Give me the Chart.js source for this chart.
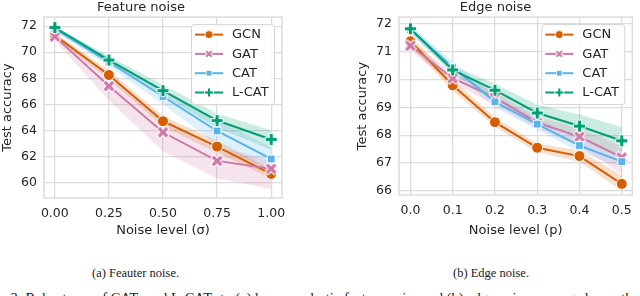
<!DOCTYPE html>
<html>
<head>
<meta charset="utf-8">
<script src="https://cdn.jsdelivr.net/npm/chart.js@4.4.0/dist/chart.umd.min.js"></script>
<style>
  html, body { margin: 0; padding: 0; background: #fff; }
  body { width: 640px; height: 296px; overflow: hidden; position: relative; }
  canvas { position: absolute; top: 0; }
  .cap { position: absolute; font-family: "Liberation Serif", "Times New Roman", serif; font-size: 12.5px; color: #222; white-space: nowrap; }
</style>
</head>
<body>
<canvas id="feat" width="320" height="240" style="left:0"></canvas>
<canvas id="edge" width="320" height="240" style="left:320px"></canvas>
<div class="cap" style="left:92px; top:266px">(a) Feauter noise.</div>
<div class="cap" style="left:453px; top:266px">(b) Edge noise.</div>
<div class="cap" style="left:-31px; top:290px; font-size:14.5px">Figure 3: Robustness of CATs and L-CATs to (a) homoscedastic feature noise and (b) edge noise, averaged over the test splits.</div>
<script>
const names = ['GCN', 'GAT', 'CAT', 'L-CAT'];
const colors = ['#d55e00', '#cc79a7', '#56b4e9', '#009e73'];

// feature noise panel
const featLevels = [0, 0.25, 0.5, 0.75, 1.0];
const featTicksY = [60, 62, 64, 66, 68, 70, 72];
const featGCN  = [71.3, 68.25, 64.7, 62.75, 60.65];
const featGAT  = [71.2, 67.4, 63.85, 61.65, 61.05];
const featCAT  = [71.8, 69.25, 66.6, 63.95, 61.8];
const featLCAT = [71.9, 69.4, 67.05, 64.75, 63.3];
const featGCNLo  = [71.1, 67.9, 64.3, 62.3, 60.3];
const featGCNHi  = [71.5, 68.6, 65.1, 63.2, 61.0];
const featGATLo  = [70.9, 66.3, 62.4, 60.3, 59.5];
const featGATHi  = [71.4, 68.2, 64.9, 62.7, 61.7];
const featCATLo  = [71.6, 68.9, 66.0, 62.9, 60.9];
const featCATHi  = [72.0, 69.6, 67.1, 64.8, 62.7];
const featLCATLo = [71.7, 69.1, 66.7, 64.2, 62.5];
const featLCATHi = [72.0, 69.7, 67.5, 65.3, 64.0];

// edge noise panel
const edgeLevels = [0, 0.1, 0.2, 0.3, 0.4, 0.5];
const edgeTicksY = [66, 67, 68, 69, 70, 71, 72];
const edgeGCN  = [71.38, 69.8, 68.47, 67.55, 67.25, 66.25];
const edgeGAT  = [71.22, 70.05, 69.35, 68.45, 67.95, 67.2];
const edgeCAT  = [71.8, 70.45, 69.2, 68.4, 67.63, 67.05];
const edgeLCAT = [71.83, 70.35, 69.62, 68.8, 68.33, 67.8];
const edgeGCNLo  = [71.2, 69.6, 68.3, 67.4, 67.05, 66.0];
const edgeGCNHi  = [71.55, 70.0, 68.65, 67.7, 67.45, 66.55];
const edgeGATLo  = [71.05, 69.85, 69.1, 68.25, 67.6, 66.6];
const edgeGATHi  = [71.4, 70.25, 69.55, 68.65, 68.25, 67.6];
const edgeCATLo  = [71.65, 70.25, 69.0, 68.2, 67.4, 66.85];
const edgeCATHi  = [71.95, 70.65, 69.4, 68.6, 67.85, 67.3];
const edgeLCATLo = [71.7, 70.2, 69.35, 68.5, 67.85, 67.2];
const edgeLCATHi = [71.95, 70.5, 69.85, 69.1, 68.75, 68.3];

const FONT = '"DejaVu Sans", sans-serif';
const TXT = '#262626';
const GRID = '#dcdcdc';

// seaborn-like filled plus / X markers with a white edge
function makeMarker(kind, color, size) {
  const c = document.createElement('canvas');
  c.width = c.height = size + 3;
  const g = c.getContext('2d');
  const m = (size + 3) / 2, a = size / 2, t = size / 6;
  g.translate(m, m);
  if (kind === 'x') g.rotate(Math.PI / 4);
  const pts = [[-t,-a],[t,-a],[t,-t],[a,-t],[a,t],[t,t],[t,a],[-t,a],[-t,t],[-a,t],[-a,-t],[-t,-t]];
  g.beginPath();
  pts.forEach((p, i) => i ? g.lineTo(p[0], p[1]) : g.moveTo(p[0], p[1]));
  g.closePath();
  g.fillStyle = color; g.fill();
  g.strokeStyle = '#fff'; g.lineWidth = 1; g.stroke();
  return c;
}

const styles = [
  { pointStyle: 'circle', radius: 5.5, legend: 'circle', lr: 4 },
  { pointStyle: makeMarker('x', colors[1], 13), radius: 6, legend: makeMarker('x', colors[1], 9) },
  { pointStyle: 'rect', radius: 5.5, legend: 'rect', lr: 4 },
  { pointStyle: makeMarker('+', colors[3], 12), radius: 6, legend: makeMarker('+', colors[3], 9) }
];

function hexA(hex, a) {
  const n = parseInt(hex.slice(1), 16);
  return `rgba(${n >> 16},${(n >> 8) & 255},${n & 255},${a})`;
}

const legendBox = {
  id: 'legendBox',
  afterDatasetsDraw(chart) {
    const { ctx, chartArea } = chart;
    const w = 83, h = 80;
    const x = chartArea.right - 8 - w, y = chartArea.top + 7;
    ctx.save();
    ctx.fillStyle = 'rgba(255,255,255,0.85)';
    ctx.strokeStyle = '#d4d4d4';
    ctx.lineWidth = 1;
    ctx.beginPath();
    ctx.roundRect(x + 0.5, y + 0.5, w, h, 3);
    ctx.fill(); ctx.stroke();
    names.forEach((n, i) => {
      const cy = y + 10.5 + i * 19.3;
      ctx.strokeStyle = colors[i]; ctx.lineWidth = 2;
      ctx.beginPath(); ctx.moveTo(x + 4, cy); ctx.lineTo(x + 32, cy); ctx.stroke();
      ctx.fillStyle = colors[i]; ctx.strokeStyle = '#fff'; ctx.lineWidth = 0.8;
      Chart.helpers.drawPoint(ctx, { pointStyle: styles[i].legend, radius: styles[i].lr || 4, borderWidth: 0.8, rotation: 0 }, x + 18, cy);
      ctx.fillStyle = TXT;
      ctx.font = '13px ' + FONT;
      ctx.textBaseline = 'middle';
      ctx.fillText(n, x + 41, cy + 0.5);
    });
    ctx.restore();
  }
};

const frame = {
  id: 'frame',
  beforeDatasetsDraw(chart) {
    const { ctx, chartArea: a } = chart;
    ctx.save();
    ctx.strokeStyle = GRID; ctx.lineWidth = 1.5;
    ctx.strokeRect(a.left, a.top, a.right - a.left, a.bottom - a.top);
    ctx.restore();
  }
};

function buildChart(id, cfg) {
  const pts = (xs, ys) => xs.map((x, i) => ({ x: x, y: ys[i] }));
  const datasets = [];
  // Chart.js paints dataset 0 last, so the series go in reverse to keep L-CAT on top
  for (let i = cfg.series.length - 1; i >= 0; i--) {
    datasets.push({
      data: pts(cfg.levels, cfg.series[i]),
      borderColor: colors[i],
      backgroundColor: colors[i],
      borderWidth: 2,
      pointStyle: styles[i].pointStyle,
      pointRadius: styles[i].radius,
      pointBackgroundColor: colors[i],
      pointBorderColor: '#fff',
      pointBorderWidth: 1,
      fill: false,
      tension: 0
    });
  }
  cfg.bands.forEach((b, i) => {
    datasets.push({ data: pts(cfg.levels, b[0]), borderWidth: 0, pointRadius: 0, fill: false });
    datasets.push({ data: pts(cfg.levels, b[1]), borderWidth: 0, pointRadius: 0, fill: '-1', backgroundColor: hexA(colors[i], 0.2) });
  });

  return new Chart(document.getElementById(id), {
    type: 'line',
    data: { datasets: datasets },
    plugins: [frame, legendBox],
    options: {
      responsive: false,
      animation: false,
      events: [],
      layout: { padding: { left: cfg.padLeft, right: cfg.padRight, top: 0, bottom: 0 } },
      plugins: {
        legend: { display: false },
        tooltip: { enabled: false },
        title: { display: true, text: cfg.title, color: TXT, font: { family: FONT, size: 13, weight: 'normal' }, padding: { top: 0, bottom: 1.5 } }
      },
      scales: {
        x: {
          type: 'linear', min: cfg.xMin, max: cfg.xMax,
          afterBuildTicks: s => { s.ticks = cfg.levels.map(v => ({ value: v })); },
          afterFit: s => { s.height = cfg.xHeight; },
          ticks: { callback: v => v.toFixed(cfg.digits), color: TXT, font: { family: FONT, size: 12.5 }, padding: 8, maxRotation: 0, autoSkip: false },
          grid: { color: GRID, lineWidth: 1.3, drawTicks: false },
          border: { display: false },
          title: { display: true, text: cfg.xTitle, color: TXT, font: { family: FONT, size: 13 }, padding: { top: 0, bottom: 2 } }
        },
        y: {
          min: cfg.yMin, max: cfg.yMax,
          afterBuildTicks: s => { s.ticks = cfg.yTicks.map(v => ({ value: v })); },
          afterFit: s => { s.width = 44; },
          ticks: { color: TXT, font: { family: FONT, size: 12.5 }, padding: 7 },
          grid: { color: GRID, lineWidth: 1.3, drawTicks: false },
          border: { display: false },
          title: { display: true, text: 'Test accuracy', color: TXT, font: { family: FONT, size: 13 }, padding: { top: 0, bottom: 0 } }
        }
      }
    }
  });
}

buildChart('feat', {
  title: 'Feature noise', xTitle: 'Noise level (σ)',
  levels: featLevels, digits: 2, xMin: -0.05, xMax: 1.05,
  yTicks: featTicksY, yMin: 58.8, yMax: 72.7,
  series: [featGCN, featGAT, featCAT, featLCAT],
  bands: [[featGCNLo, featGCNHi], [featGATLo, featGATHi], [featCATLo, featCATHi], [featLCATLo, featLCATHi]],
  padLeft: 0, padRight: 38, xHeight: 42
});

buildChart('edge', {
  title: 'Edge noise', xTitle: 'Noise level (p)',
  levels: edgeLevels, digits: 1, xMin: -0.027, xMax: 0.525,
  yTicks: edgeTicksY, yMin: 65.85, yMax: 72.25,
  series: [edgeGCN, edgeGAT, edgeCAT, edgeLCAT],
  bands: [[edgeGCNLo, edgeGCNHi], [edgeGATLo, edgeGATHi], [edgeCATLo, edgeCATHi], [edgeLCATLo, edgeLCATHi]],
  padLeft: 35, padRight: 4, xHeight: 45
});
</script>
</body>
</html>
